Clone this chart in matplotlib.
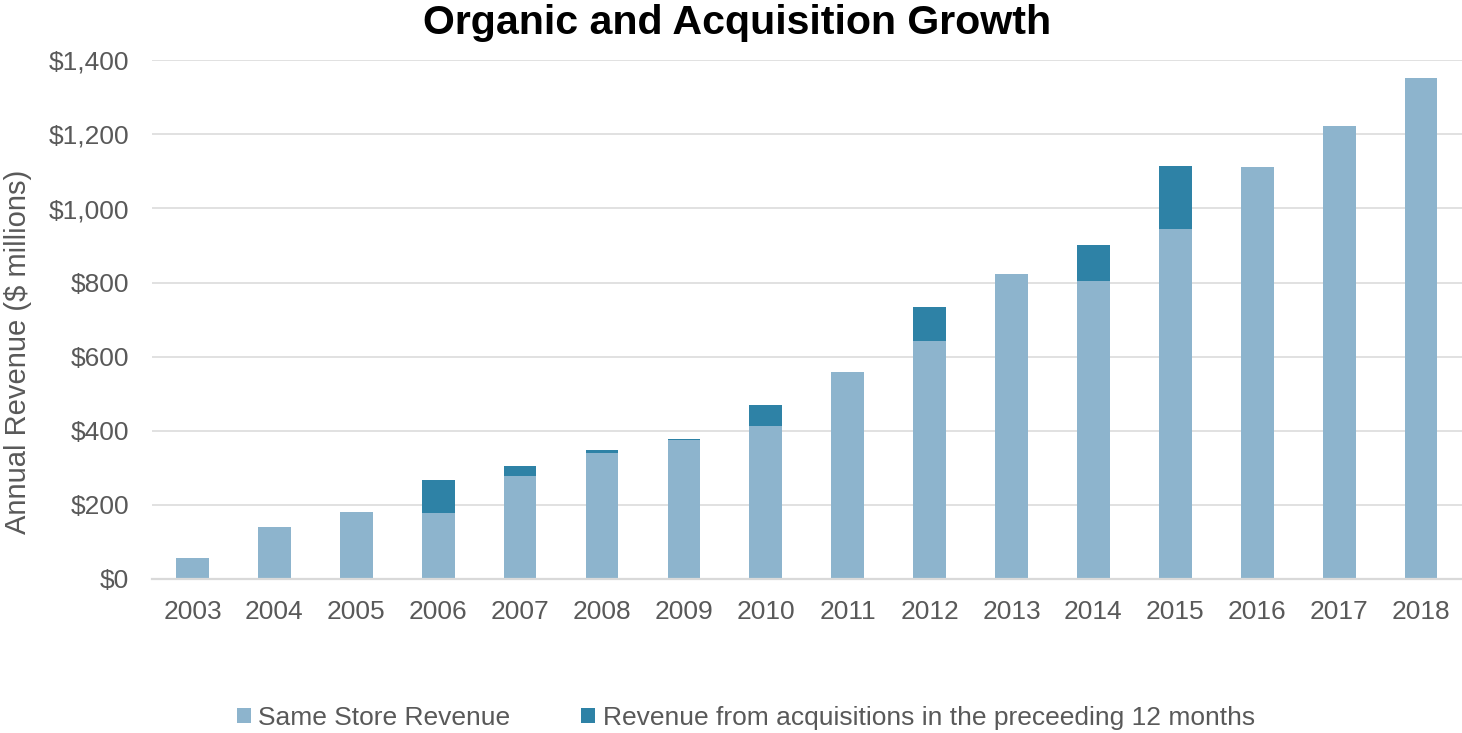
import matplotlib
matplotlib.use("Agg")
import matplotlib.pyplot as plt
from matplotlib.ticker import FuncFormatter

years = ["2003", "2004", "2005", "2006", "2007", "2008", "2009", "2010",
         "2011", "2012", "2013", "2014", "2015", "2016", "2017", "2018"]
same_store = [56, 141, 182, 179, 279, 339, 374, 412, 559, 643, 824, 805, 946, 1111, 1222, 1351]
acquisitions = [0, 0, 0, 89, 26, 9, 4, 57, 0, 92, 0, 96, 169, 0, 0, 0]

title = "Organic and Acquisition Growth"
ylabel = "Annual Revenue ($ millions)"
label_ss = "Same Store Revenue"
label_acq = "Revenue from acquisitions in the preceeding 12 months"

c_light = "#8DB4CD"
c_dark = "#2E82A6"
c_text = "#595959"
c_grid = "#D9D9D9"

plt.rcParams['font.family'] = ['Liberation Sans', 'DejaVu Sans']

W, H = 1462, 733
fig = plt.figure(figsize=(W / 100, H / 100), dpi=100)
ax = fig.add_axes([151.5 / W, 1 - 579 / H, (W - 151.5) / W, (579 - 60.3) / H])

x = list(range(len(years)))
b1 = ax.bar(x, same_store, width=0.40, color=c_light, label=label_ss, zorder=3)
b2 = ax.bar(x, acquisitions, width=0.40, bottom=same_store, color=c_dark,
            label=label_acq, zorder=3)

ax.set_xlim(-0.5, len(years) - 0.5)
ax.set_ylim(0, 1400)
ax.set_yticks(range(0, 1401, 200))
ax.yaxis.set_major_formatter(FuncFormatter(lambda v, p: f"${v:,.0f}"))
ax.set_xticks(x)
ax.set_xticklabels(years)

ax.grid(axis='y', color=c_grid, linewidth=1.1, zorder=0)
for s in ['top', 'right', 'left']:
    ax.spines[s].set_visible(False)
ax.spines['bottom'].set_color(c_grid)
ax.spines['bottom'].set_linewidth(1.6)
ax.spines['bottom'].set_zorder(4)

ax.tick_params(axis='both', length=0, labelsize=19, labelcolor=c_text)
ax.tick_params(axis='x', pad=15)
ax.tick_params(axis='y', pad=16)

fig.text(737 / W, 1 - 23 / H, title, ha='center', va='center', fontsize=29.6,
         fontweight='bold', color='black')
fig.text(18 / W, 1 - 352 / H, ylabel, ha='center', va='center', rotation=90,
         fontsize=21, color=c_text)

leg = fig.legend(handles=[b1, b2], labels=[label_ss, label_acq],
                 loc='center left', bbox_to_anchor=(237 / W, 1 - 718 / H),
                 ncol=2, frameon=False, fontsize=19, labelcolor=c_text,
                 handlelength=0.52, handleheight=0.52, handletextpad=0.28,
                 columnspacing=2.7, borderpad=0, borderaxespad=0)

fig.savefig("out.png", dpi=100)
